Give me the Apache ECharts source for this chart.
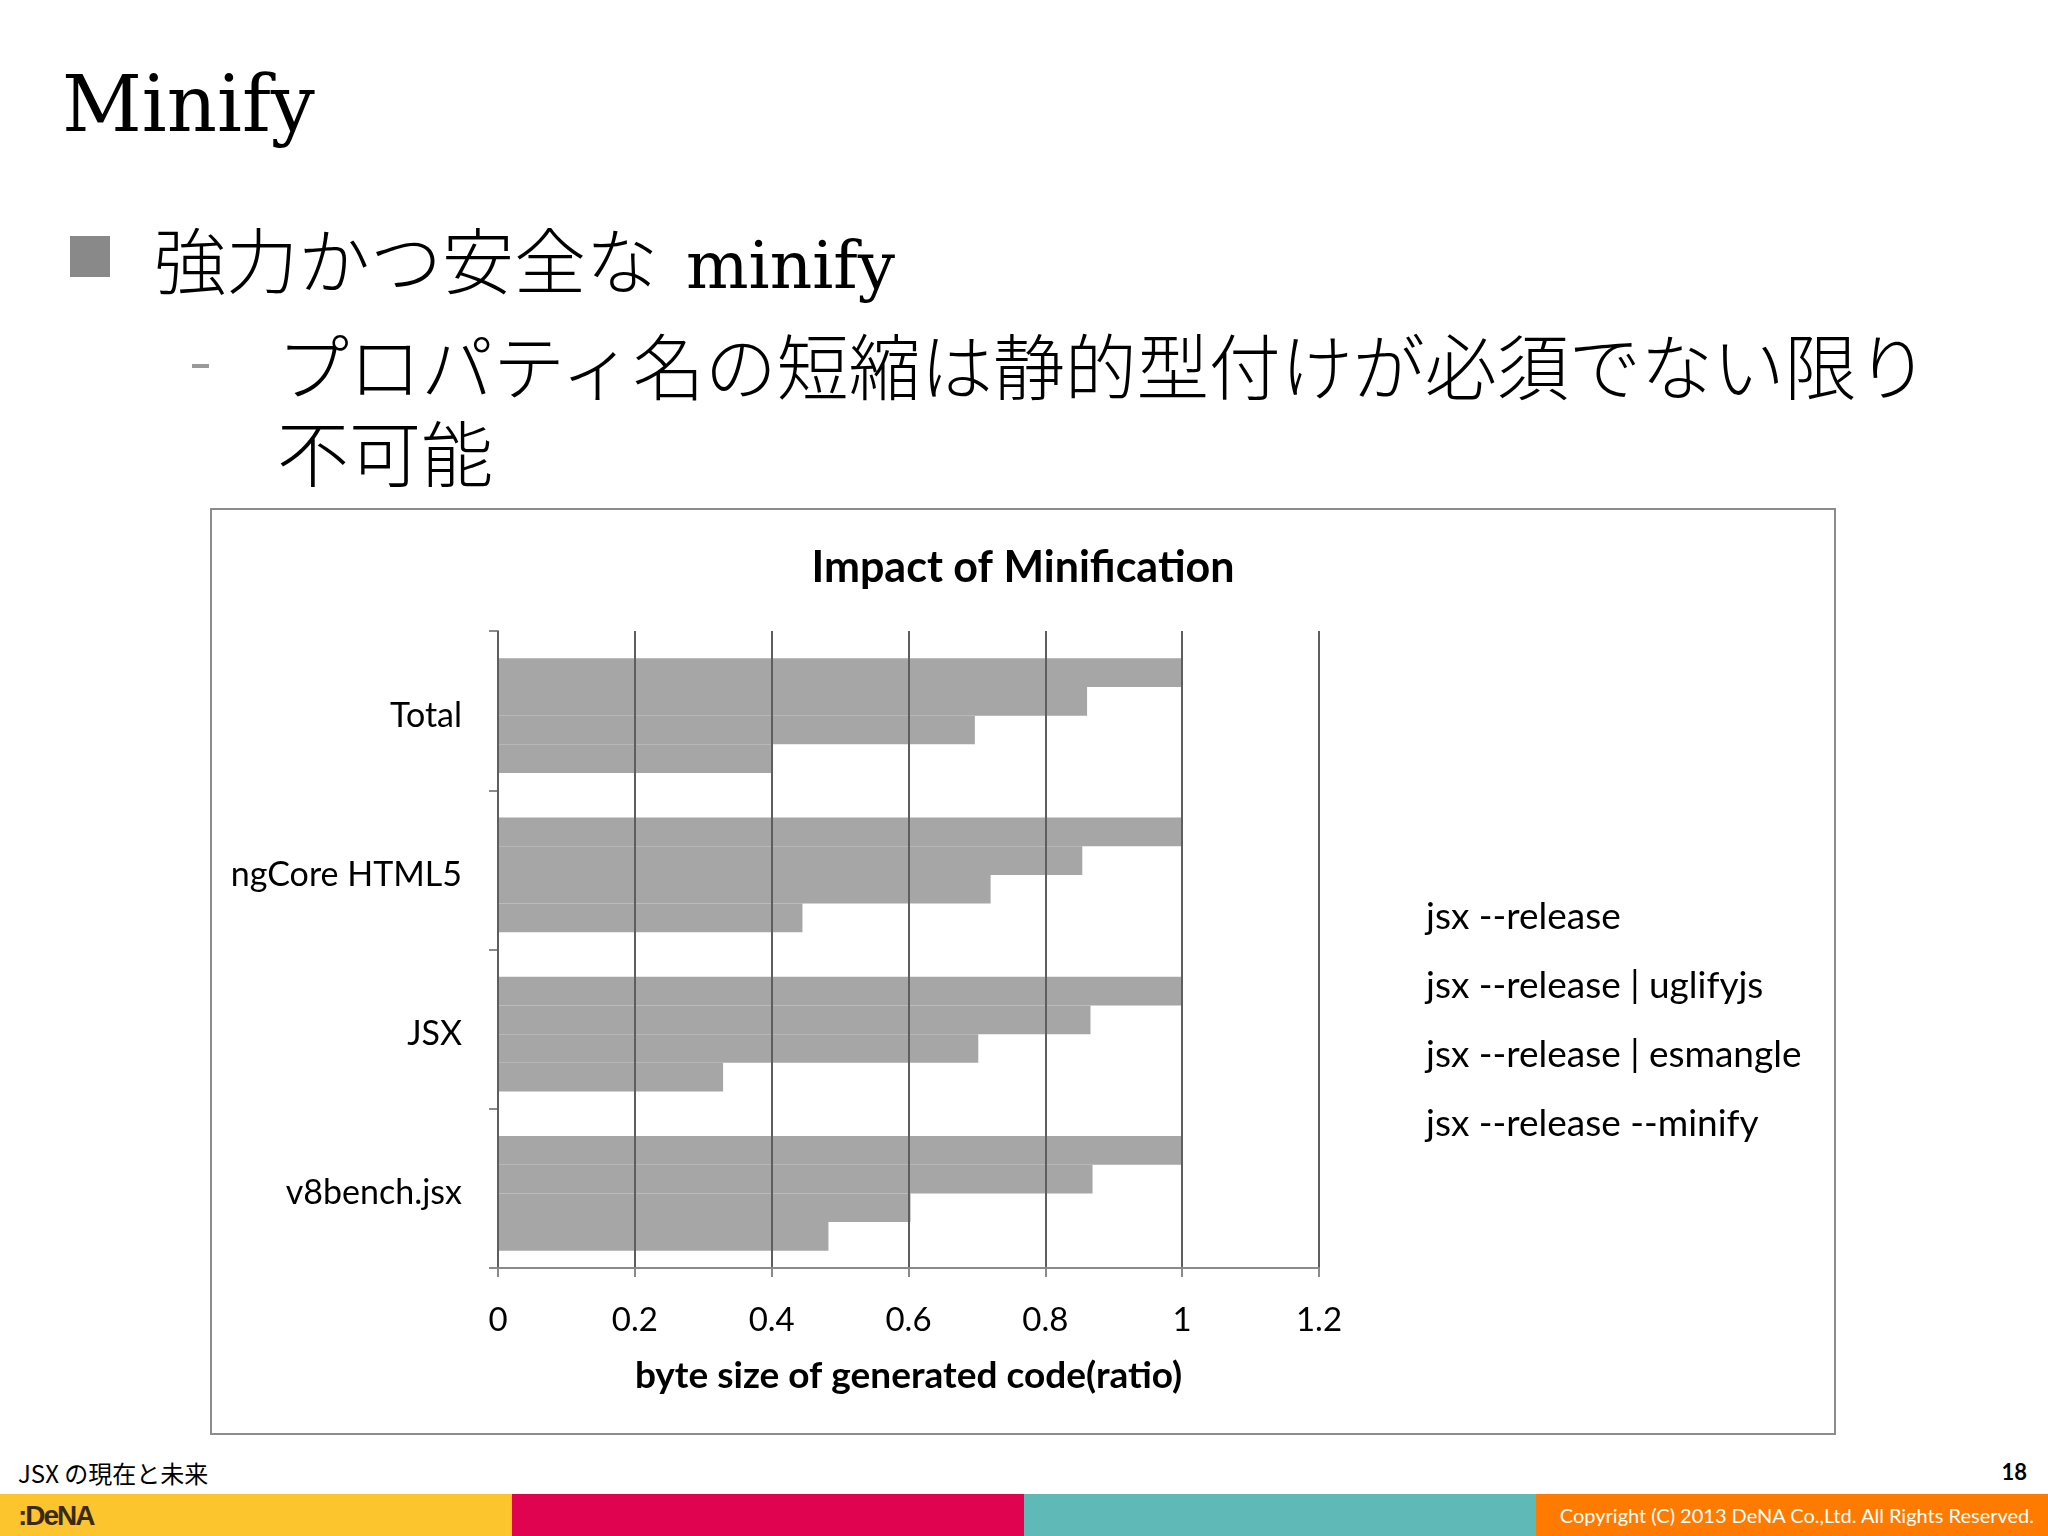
<!DOCTYPE html>
<html>
<head>
<meta charset="utf-8">
<title>Minify</title>
<script src="https://cdn.jsdelivr.net/npm/echarts@6/dist/echarts.min.js"></script>
<style>
  html, body { margin: 0; padding: 0; background: #fff; }
  .slide { position: relative; width: 2048px; height: 1536px; overflow: hidden; background: #fff; }
  .serif { font-family: "DejaVu Serif", "Liberation Serif", serif; }
  .title { position: absolute; left: 62px; top: 65px; font-size: 78px; line-height: 78px; color: #000; }
  .bullet-box { position: absolute; left: 70px; top: 236px; width: 40px; height: 41px; background: #898989; }
  .line1 { position: absolute; left: 154px; top: 221px; font-family: "Noto Sans CJK JP", sans-serif; font-size: 72px; line-height: 72px; font-weight: 300; color: #000; white-space: nowrap; }
  .line1 .serif { font-size: 66px; margin-left: 28px; }
  .dash { position: absolute; left: 192px; top: 364px; width: 17px; height: 4px; background: #9a9a9a; }
  .line2 { position: absolute; left: 277px; top: 319px; font-family: "Noto Sans CJK JP", sans-serif; font-size: 72px; line-height: 87px; font-weight: 300; color: #000; white-space: nowrap; }
  /* 図表の枠 */
  #chart { position: absolute; left: 210px; top: 508px; width: 1626px; height: 927px; box-sizing: border-box; border: 2px solid #8c8c8c; }
  .foot-title { position: absolute; left: 18px; top: 1458px; font-family: "Noto Sans CJK JP", sans-serif; font-size: 24px; line-height: 30px; color: #000; }
  .page-no { position: absolute; right: 21px; top: 1458px; font-family: Lato, sans-serif; font-weight: 700; font-size: 22px; line-height: 28px; color: #000; }
  .strip { position: absolute; top: 1494px; height: 42px; width: 512px; }
  .logo { position: absolute; left: 18px; top: 1499px; font-family: "Liberation Sans", sans-serif; font-weight: 700; font-size: 28px; line-height: 34px; color: #3b2a12; letter-spacing: -2px; }
  .copy { position: absolute; right: 14px; top: 1501px; font-family: Lato, sans-serif; font-size: 20px; line-height: 28px; color: #fff; white-space: nowrap; }
</style>
</head>
<body>
<div class="slide">
  <div class="title serif">Minify</div>
  <div class="bullet-box"></div>
  <div class="line1">強力かつ安全な<span class="serif">minify</span></div>
  <div class="dash"></div>
  <div class="line2">プロパティ名の短縮は静的型付けが必須でない限り<br>不可能</div>

  <div id="chart"></div>

  <div class="foot-title">JSX の現在と未来</div>
  <div class="page-no">18</div>
  <div class="strip" style="left:0;background:#fcc42d;"></div>
  <div class="strip" style="left:512px;background:#e00450;"></div>
  <div class="strip" style="left:1024px;background:#5fbab7;"></div>
  <div class="strip" style="left:1536px;background:#ff7b00;"></div>
  <div class="logo">:DeNA</div>
  <div class="copy">Copyright (C) 2013 DeNA Co.,Ltd. All Rights Reserved.</div>
</div>

<script>
// データ
const categories = ["Total", "ngCore HTML5", "JSX", "v8bench.jsx"];
const seriesNames = [
  "jsx --release",
  "jsx --release | uglifyjs",
  "jsx --release | esmangle",
  "jsx --release --minify"
];
const releaseValues = [1, 1, 1, 1];
const uglifyValues = [0.861, 0.854, 0.866, 0.869];
const esmangleValues = [0.697, 0.720, 0.702, 0.603];
const minifyValues = [0.402, 0.445, 0.329, 0.483];
const xTicks = [0, 0.2, 0.4, 0.6, 0.8, 1, 1.2];

const seriesValues = [releaseValues, uglifyValues, esmangleValues, minifyValues];

const FONT = "Lato, 'Open Sans', sans-serif";
const chart = echarts.init(document.getElementById("chart"), null, { renderer: "canvas" });

chart.setOption({
  backgroundColor: "#fff",
  animation: false,
  title: {
    text: "Impact of Minification",
    left: "center",
    top: 32,
    textStyle: { fontFamily: FONT, fontSize: 43, fontWeight: "bold", color: "#000" }
  },
  legend: {
    orient: "vertical",
    left: 1204,
    top: 380,
    itemWidth: 0,
    itemHeight: 20,
    itemGap: 25,
    icon: "rect",
    itemStyle: { opacity: 0 },
    textStyle: { fontFamily: FONT, fontSize: 37, color: "#000", lineHeight: 44 },
    data: seriesNames
  },
  // grid 0: 見える軸線と目盛, grid 1: 棒とカテゴリ名 (元のグラフと同じく少し下にずれる)
  grid: [
    { left: 286, top: 121, width: 821, height: 637, containLabel: false },
    { left: 286, top: 126, width: 821, height: 637, containLabel: false }
  ],
  xAxis: [
    {
      type: "value",
      gridIndex: 0,
      min: 0,
      max: 1.2,
      interval: 0.2,
      z: 3, // 目盛線を棒の上に描く
      name: "byte size of generated code(ratio)",
      nameLocation: "middle",
      nameGap: 90,
      nameTextStyle: { fontFamily: FONT, fontSize: 37, fontWeight: "bold", color: "#000" },
      axisLine: { show: true, lineStyle: { color: "#8a8a8a", width: 2 } },
      axisTick: { show: true, length: 9, lineStyle: { color: "#8a8a8a", width: 2 } },
      axisLabel: {
        fontFamily: FONT, fontSize: 33, color: "#000", margin: 36,
        formatter: (v) => String(xTicks.find((t) => Math.abs(t - v) < 1e-9) ?? v)
      },
      splitLine: { show: true, lineStyle: { color: "#5e5e5e", width: 2 } }
    },
    { type: "value", gridIndex: 1, min: 0, max: 1.2, interval: 0.2, show: false }
  ],
  yAxis: [
    {
      type: "category",
      gridIndex: 0,
      data: categories,
      inverse: true,
      axisLine: { show: true, lineStyle: { color: "#8a8a8a", width: 2 } },
      axisTick: { show: true, length: 9, lineStyle: { color: "#8a8a8a", width: 2 } },
      axisLabel: { show: false },
      splitLine: { show: false }
    },
    {
      type: "category",
      gridIndex: 1,
      data: categories,
      inverse: true,
      axisLine: { show: false },
      axisTick: { show: false },
      axisLabel: { fontFamily: FONT, fontSize: 34, color: "#000", margin: 36 },
      splitLine: { show: false }
    }
  ],
  series: seriesNames.map((name, i) => ({
    name: name,
    type: "bar",
    xAxisIndex: 1,
    yAxisIndex: 1,
    data: seriesValues[i],
    barGap: "0%",
    barCategoryGap: "28%",
    itemStyle: { color: "#a6a6a6" },
    z: 2
  }))
});
</script>
</body>
</html>
